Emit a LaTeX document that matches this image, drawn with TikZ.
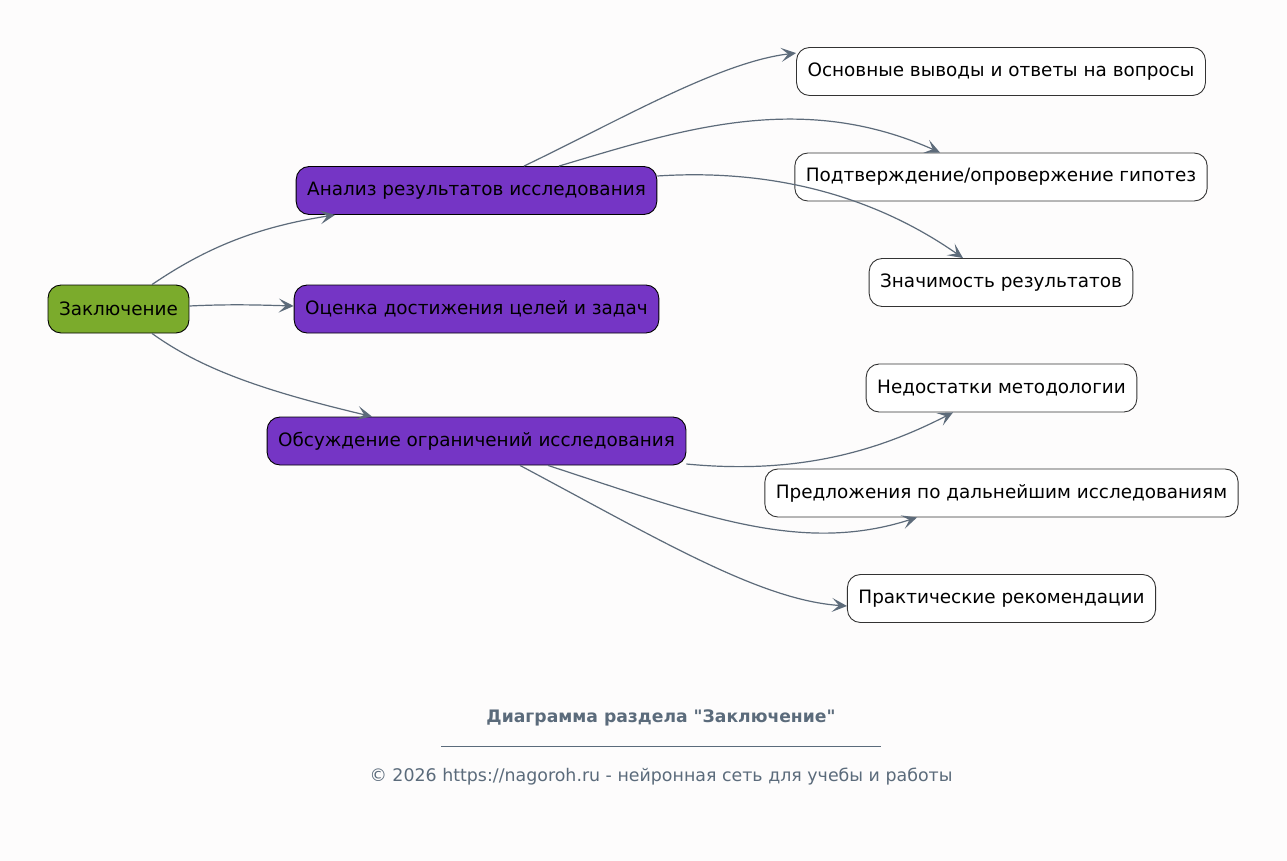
\documentclass[tikz,border=0pt]{standalone}
\usepackage{fontspec}
\setmainfont{DejaVu Sans}[Ligatures=TeXOff]
\usepackage{xcolor}
\usetikzlibrary{arrows.meta,calc}
\definecolor{bgc}{HTML}{FDFCFC}
\definecolor{rootc}{HTML}{7BAB2C}
\definecolor{mainc}{HTML}{7535C5}
\definecolor{edgec}{HTML}{5D6B7A}
\definecolor{footc}{HTML}{5B6B7B}
\tikzset{
  box/.style={draw=black, line width=0.9pt, rounded corners=13pt, inner xsep=11pt,
    minimum height=48pt, font=\fontsize{18.4}{22}\selectfont, text=black},
  rootbox/.style={box, fill=rootc},
  mainbox/.style={box, fill=mainc},
  leafbox/.style={box, fill=white, draw=black!80},
  link/.style={draw=edgec, line width=1.2pt,
    -{Stealth[length=15pt,width=14pt,inset=7pt]}},
  foot/.style={text=footc, font=\fontsize{17.4}{20}\selectfont}
}

\begin{document}
\begin{tikzpicture}[x=1pt, y=-1pt]
  \fill[bgc] (0,0) rectangle (1287,861);
  \useasboundingbox (0,0) rectangle (1287,861);

  % root and second level
  \node[rootbox] (root) at (118.5,309) {Заключение};
  \node[mainbox] (ana) at (476.5,190.5) {Анализ результатов исследования};
  \node[mainbox] (oce) at (476.5,309) {Оценка достижения целей и задач};
  \node[mainbox] (obs) at (476.5,441) {Обсуждение ограничений исследования};

  % leaves
  \node[leafbox] (osn) at (1001,71.5) {Основные выводы и ответы на вопросы};
  \node[leafbox] (pod) at (1001,177) {Подтверждение/опровержение гипотез};
  \node[leafbox] (zna) at (1001,282.5) {Значимость результатов};
  \node[leafbox] (ned) at (1001.5,388) {Недостатки методологии};
  \node[leafbox] (pre) at (1001.5,493) {Предложения по дальнейшим исследованиям};
  \node[leafbox] (pra) at (1001.5,598.5) {Практические рекомендации};

  % connectors
  \draw[link] ([xshift=33.5pt]root.north) .. controls (200,252) and (250,228) .. ([xshift=-141.5pt]ana.south);
  \draw[link] ([yshift=3pt]root.east) .. controls (230,304) and (260,305) .. ([yshift=3pt]oce.west);
  \draw[link] ([xshift=33.5pt]root.south) .. controls (200,368) and (260,390) .. ([xshift=-104.5pt]obs.north);

  \draw[link] ([xshift=47.5pt]ana.north) .. controls (620,120) and (720,62) .. ([yshift=-6pt]osn.north west);
  \draw[link] ([xshift=82.5pt]ana.north) .. controls (680,130) and (800,90) .. ([xshift=-61pt]pod.north);
  \draw[link] ([yshift=14.5pt]ana.east) .. controls (780,168) and (880,200) .. ([xshift=-38pt]zna.north);

  \draw[link] ([yshift=-23pt]obs.east) .. controls (800,475) and (880,450) .. ([xshift=-48.5pt]ned.south);
  \draw[link] ([xshift=71.5pt]obs.south) .. controls (700,515) and (800,555) .. ([xshift=-84.5pt]pre.south);
  \draw[link] ([xshift=43.5pt]obs.south) .. controls (660,540) and (760,600) .. ([yshift=-7.5pt]pra.west);

  % footer
  \node[foot, font=\fontsize{17.2}{20}\selectfont\bfseries] (title) at (661,718) {Диаграмма раздела "Заключение"};
  \coordinate (ruleL) at (441,746);
  \coordinate (ruleR) at (881,746);
  \draw[footc, line width=0.8pt] (ruleL) -- (ruleR);
  \node[foot] (copy) at (661,777) {© 2026 https://nagoroh.ru - нейронная сеть для учебы и работы};
\end{tikzpicture}
\end{document}
